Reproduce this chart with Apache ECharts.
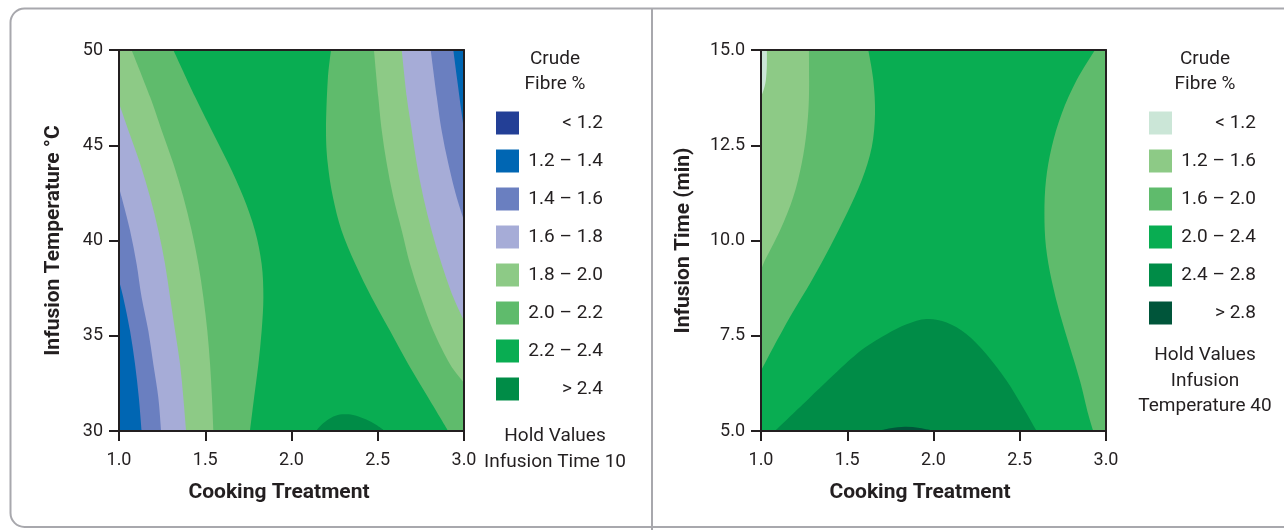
<!DOCTYPE html>
<html><head><meta charset="utf-8">
<script src="https://cdn.jsdelivr.net/npm/echarts@6/dist/echarts.min.js"></script>
<style>html,body{margin:0;padding:0;background:#fff}#c{width:1284px;height:530px}</style>
</head><body><div id="c"></div>
<script>
// ---------------- DATA ----------------
const xMin = 1.0, xMax = 3.0, xStep = 0.5;               // Cooking Treatment
const tempMin = 30, tempMax = 50, tempStep = 5;          // Infusion Temperature °C
const timeMin = 5.0, timeMax = 15.0, timeStep = 2.5;     // Infusion Time (min)

const leftBands  = ['< 1.2','1.2 – 1.4','1.4 – 1.6','1.6 – 1.8','1.8 – 2.0','2.0 – 2.2','2.2 – 2.4','> 2.4'];
const leftColors = ['#233f96','#0066b3','#6a7fc0','#a6acd7','#8dca86','#5fbb6c','#09ad52','#008c47'];
const rightBands  = ['< 1.2','1.2 – 1.6','1.6 – 2.0','2.0 – 2.4','2.4 – 2.8','> 2.8'];
const rightColors = ['#cbe6d7','#8dca86','#5fbb6c','#09ad52','#008c47','#00553a'];

// Left plot contour boundaries [cooking, temperature]
const L_A = [[1.131,30],[1.115,31.75],[1.093,33.5],[1.064,35.26],[1.025,37.0],[1.0,37.9]];           // 1.4 contour (left)
const L_B = [[1.244,30],[1.228,31.75],[1.199,33.5],[1.17,35.26],[1.131,37.02],[1.102,38.77],[1.064,40.53],[1.015,42.28],[1.0,42.8]]; // 1.6
const L_C = [[1.389,30],[1.373,31.75],[1.354,33.5],[1.325,35.26],[1.296,37.02],[1.267,38.77],[1.228,40.53],[1.18,42.28],[1.122,44.04],[1.054,45.79],[1.0,47.2]]; // 1.8
const L_D = [[1.073,50],[1.18,47.54],[1.247,45.79],[1.315,44.04],[1.373,42.28],[1.421,40.53],[1.46,38.77],[1.489,37.02],[1.512,35.26],[1.528,33.5],[1.539,31.75],[1.547,30]]; // 2.0
const L_E = [[1.315,50],[1.441,47.54],[1.537,45.79],[1.634,44.04],[1.721,42.28],[1.788,40.53],[1.827,38.77],[1.837,37.02],[1.827,35.26],[1.808,33.5],[1.783,31.75],[1.759,30]]; // 2.2
const L_F = [[2.229,50],[2.21,48.4],[2.2,45.79],[2.21,44.04],[2.24,42.28],[2.29,40.53],[2.37,38.77],[2.464,37.02],[2.571,35.26],[2.677,33.5],[2.793,31.75],[2.909,30]]; // 2.2 (right)
const L_G = [[2.478,50],[2.503,47.54],[2.523,45.79],[2.552,44.04],[2.59,42.28],[2.639,40.53],[2.687,38.77],[2.749,37.02],[2.822,35.26],[2.919,33.51],[3.0,32.54]]; // 2.0 (right)
const L_H = [[2.639,50],[2.668,47.54],[2.697,45.79],[2.726,44.04],[2.764,42.28],[2.812,40.53],[2.87,38.77],[2.938,37.02],[3.0,35.79]]; // 1.8 (right)
const L_I = [[2.807,50],[2.842,47.54],[2.87,45.79],[2.909,44.04],[2.957,42.28],[3.0,41.05]]; // 1.6 (right)
const L_J = [[2.938,50],[2.961,48.4],[2.986,46.7],[3.0,45.79]]; // 1.4 (right)
const L_K = [[2.142,30],[2.18,30.38],[2.23,30.7],[2.28,30.86],[2.32,30.88],[2.37,30.82],[2.43,30.62],[2.49,30.33],[2.542,30]]; // 2.4 blob

// Right plot contour boundaries [cooking, time]
const R_K = [[1.034,15],[1.034,14.6],[1.028,14.2],[1.015,13.95],[1.0,13.77]];   // 1.2
const R_L = [[1.278,15],[1.278,13.77],[1.265,12.89],[1.236,12.02],[1.187,11.14],[1.11,10.26],[1.014,9.39],[1.0,9.12]]; // 1.6
const R_M = [[1.622,15],[1.651,14.21],[1.661,13.33],[1.642,12.45],[1.584,11.58],[1.497,10.7],[1.4,9.83],[1.294,8.95],[1.178,8.07],[1.071,7.19],[1.0,6.58]]; // 2.0 (left)
const R_N = [[2.936,15],[2.83,14.21],[2.743,13.33],[2.685,12.45],[2.652,11.58],[2.643,10.7],[2.652,9.83],[2.685,8.95],[2.733,8.07],[2.791,7.19],[2.849,6.32],[2.897,5.44],[2.926,5]]; // 2.0 (right)
const R_O = [[1.081,5],[1.284,5.88],[1.487,6.75],[1.603,7.19],[1.728,7.54],[1.844,7.8],[1.96,7.94],[2.076,7.85],[2.192,7.54],[2.308,7.01],[2.424,6.32],[2.52,5.61],[2.598,5]]; // 2.4
const R_P = [[1.68,5],[1.75,5.07],[1.835,5.11],[1.92,5.08],[2.009,5]];   // 2.8

// ---------------- REGIONS (band index, boundary curve, closing corners) ----------------
const leftRegions = [
  {band:6, curve:[[xMin,tempMin],[xMax,tempMin]], corners:[[xMax,tempMax],[xMin,tempMax]]},
  {band:5, curve:L_E, corners:[[xMin,tempMin],[xMin,tempMax]]},
  {band:4, curve:L_D, corners:[[xMin,tempMin],[xMin,tempMax]]},
  {band:3, curve:L_C, corners:[[xMin,tempMin]]},
  {band:2, curve:L_B, corners:[[xMin,tempMin]]},
  {band:1, curve:L_A, corners:[[xMin,tempMin]]},
  {band:5, curve:L_F, corners:[[xMax,tempMin],[xMax,tempMax]]},
  {band:4, curve:L_G, corners:[[xMax,tempMax]]},
  {band:3, curve:L_H, corners:[[xMax,tempMax]]},
  {band:2, curve:L_I, corners:[[xMax,tempMax]]},
  {band:1, curve:L_J, corners:[[xMax,tempMax]]},
  {band:7, curve:L_K, corners:[]}
];
const rightRegions = [
  {band:3, curve:[[xMin,timeMin],[xMax,timeMin]], corners:[[xMax,timeMax],[xMin,timeMax]]},
  {band:2, curve:R_M, corners:[[xMin,timeMax]]},
  {band:1, curve:R_L, corners:[[xMin,timeMax]]},
  {band:0, curve:R_K, corners:[[xMin,timeMax]]},
  {band:2, curve:R_N, corners:[[xMax,timeMin],[xMax,timeMax]]},
  {band:4, curve:R_O, corners:[]},
  {band:5, curve:R_P, corners:[]}
];

// ---------------- RENDER ----------------
const INK = '#231f20';
const FONT = 'Roboto, "Noto Sans", sans-serif';
const chart = echarts.init(document.getElementById('c'), null, {renderer:'canvas', width:1284, height:530});

function crPath(pts){
  let d = 'M' + pts[0][0] + ' ' + pts[0][1];
  for (let i = 0; i < pts.length - 1; i++) {
    const p0 = pts[i-1] || pts[i], p1 = pts[i], p2 = pts[i+1], p3 = pts[i+2] || pts[i+1];
    const c1 = [p1[0] + (p2[0]-p0[0])/6, p1[1] + (p2[1]-p0[1])/6];
    const c2 = [p2[0] - (p3[0]-p1[0])/6, p2[1] - (p3[1]-p1[1])/6];
    d += ' C' + c1[0] + ' ' + c1[1] + ' ' + c2[0] + ' ' + c2[1] + ' ' + p2[0] + ' ' + p2[1];
  }
  return d;
}
function makeRender(regions, colors){
  return function(params, api){
    const r = regions[params.dataIndex];
    const cs = params.coordSys;
    const curve = r.curve.map(p => api.coord(p));
    const corners = r.corners.map(p => api.coord(p));
    let d = crPath(curve);
    corners.forEach(c => { d += ' L' + c[0] + ' ' + c[1]; });
    d += ' Z';
    return {
      type:'path', shape:{pathData:d},
      style:{fill:colors[r.band], stroke:null},
      clipPath:{type:'rect', shape:{x:cs.x, y:cs.y, width:cs.width, height:cs.height}}
    };
  };
}

function xAxes(gi, padRight){
  return [{
    type:'value', gridIndex:gi, min:xMin, max:xMax, interval:xStep, position:'bottom', z:10,
    axisLine:{show:true, onZero:false, lineStyle:{color:INK, width:2}},
    axisTick:{show:true, length:10, lineStyle:{color:INK, width:2}},
    axisLabel:{color:INK, fontSize:18, fontFamily:FONT, margin:20, formatter:v => v.toFixed(1)},
    splitLine:{show:false},
    name:'Cooking Treatment', nameLocation:'middle', nameGap:51,
    nameTextStyle:{color:INK, fontSize:21, fontWeight:'bold', fontFamily:FONT, padding:[0,padRight,0,0]}
  },{
    type:'value', gridIndex:gi, min:xMin, max:xMax, position:'top', z:10,
    axisLine:{show:true, onZero:false, lineStyle:{color:INK, width:2}},
    axisTick:{show:false}, axisLabel:{show:false}, splitLine:{show:false}
  }];
}
function yAxes(gi, mn, mx, step, fmt, name, gap){
  return [{
    type:'value', gridIndex:gi, min:mn, max:mx, interval:step, position:'left', z:10,
    axisLine:{show:true, onZero:false, lineStyle:{color:INK, width:2}},
    axisTick:{show:true, length:10, lineStyle:{color:INK, width:2}},
    axisLabel:{color:INK, fontSize:18, fontFamily:FONT, margin:16, formatter:fmt},
    splitLine:{show:false},
    name:name, nameLocation:'middle', nameGap:gap,
    nameTextStyle:{color:INK, fontSize:21, fontWeight:'bold', fontFamily:FONT}
  },{
    type:'value', gridIndex:gi, min:mn, max:mx, position:'right', z:10,
    axisLine:{show:true, onZero:false, lineStyle:{color:INK, width:2}},
    axisTick:{show:false}, axisLabel:{show:false}, splitLine:{show:false}
  }];
}

function legendGraphics(cx, swX, labelRight, bands, colors, notes, noteY){
  const g = [];
  g.push({type:'text', x:cx, y:59, style:{text:'Crude', fill:INK, font:'19px '+FONT, textAlign:'center', textVerticalAlign:'middle'}});
  g.push({type:'text', x:cx, y:84, style:{text:'Fibre %', fill:INK, font:'19px '+FONT, textAlign:'center', textVerticalAlign:'middle'}});
  bands.forEach((b, i) => {
    const top = 111.5 + i*38;
    g.push({type:'rect', shape:{x:swX, y:top, width:23, height:23}, style:{fill:colors[i]}});
    g.push({type:'text', x:labelRight, y:top + 12, style:{text:b, fill:INK, font:'19px '+FONT, textAlign:'right', textVerticalAlign:'middle'}});
  });
  notes.forEach((t, i) => {
    g.push({type:'text', x:cx, y:noteY[i], style:{text:t, fill:INK, font:'19px '+FONT, textAlign:'center', textVerticalAlign:'middle'}});
  });
  return g;
}

const graphics = [
  {type:'rect', shape:{x:10.5, y:8.5, width:1300, height:518.5, r:14}, style:{fill:'none', stroke:'#a8a8ad', lineWidth:2}, z:-1},
  {type:'line', shape:{x1:652, y1:8.5, x2:652, y2:530}, style:{stroke:'#a8a8ad', lineWidth:2}, z:-1}
].concat(
  legendGraphics(555, 496, 603, leftBands, leftColors, ['Hold Values','Infusion Time 10'], [436, 462]),
  legendGraphics(1205, 1149, 1256, rightBands, rightColors, ['Hold Values','Infusion','Temperature 40'], [355, 381, 406])
);

const option = {
  animation:false,
  backgroundColor:'#fff',
  grid:[
    {left:119, top:50, width:345, height:381},
    {left:761, top:50, width:345, height:381}
  ],
  xAxis: xAxes(0, 25).concat(xAxes(1, 27)),
  yAxis: yAxes(0, tempMin, tempMax, tempStep, v => String(v), 'Infusion Temperature °C', 55)
    .concat(yAxes(1, timeMin, timeMax, timeStep, v => v.toFixed(1), 'Infusion Time (min)', 67)),
  series:[
    {type:'custom', xAxisIndex:0, yAxisIndex:0, renderItem:makeRender(leftRegions, leftColors),
     data:leftRegions.map(r => [r.band]), silent:true},
    {type:'custom', xAxisIndex:2, yAxisIndex:2, renderItem:makeRender(rightRegions, rightColors),
     data:rightRegions.map(r => [r.band]), silent:true}
  ],
  graphic: graphics
};
chart.setOption(option);
</script>
</body></html>
